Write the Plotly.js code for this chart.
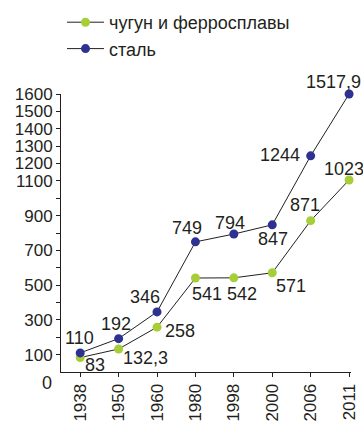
<!DOCTYPE html>
<html><head><meta charset="utf-8">
<script src="https://cdn.plot.ly/plotly-3.0.1.min.js"></script>
<style>html,body{margin:0;padding:0;background:#fff}#chart{width:363px;height:422px}</style>
</head><body><div id="chart"></div>
<script>
const years = ['1938','1950','1960','1980','1998','2000','2006','2011'];
const pigIron = [83, 132.3, 258, 541, 542, 571, 871, 1105];
const pigIronLabels = ['83','132,3','258','541','542','571','871','1023'];
const steel = [110, 192, 346, 749, 794, 847, 1244, 1600];
const steelLabels = ['110','192','346','749','794','847','1244','1517,9'];
const yTickVals = [100,200,300,400,500,600,700,800,900,1000,1100,1200,1300,1400,1500,1600];
const yTickText = ['100','','300','','500','','700','','900','','1100','1200','1300','1400','1500','1600'];
const seriesNames = ['чугун и ферросплавы','сталь'];

const FONT = 'Liberation Sans, Arial, sans-serif';
const TXT = '#231f20';
const GREEN = '#a6ce39', BLUE = '#2e3192';

// label offsets (px) relative to each point
const steelOff = [[-1,15],[-3,15],[-12,15],[-8,14],[-4,11],[1,-14],[-31,1],[-16,12]];
const pigOff = [[15,-7],[27,-9],[23,-4],[12,-16],[8,-16],[19,-13],[-6,16],[-5,11]];

const ann = [];
years.forEach((y,i)=>{
  ann.push({x:i,y:steel[i],xref:'x',yref:'y',text:steelLabels[i],showarrow:false,
    xshift:steelOff[i][0],yshift:steelOff[i][1],font:{family:FONT,size:18,color:TXT}});
  ann.push({x:i,y:pigIron[i],xref:'x',yref:'y',text:pigIronLabels[i],showarrow:false,
    xshift:pigOff[i][0],yshift:pigOff[i][1],font:{family:FONT,size:18,color:TXT}});
});
ann.push({x:0,xref:'paper',xanchor:'right',xshift:-7,y:0,yref:'y',yshift:-11,text:'0',showarrow:false,
  font:{family:FONT,size:18,color:TXT}});

const xi = years.map((_,i)=>i);
const traces = [
  {x:xi,y:pigIron,name:seriesNames[0],mode:'lines+markers',cliponaxis:false,
   line:{color:'#231f20',width:1},marker:{color:GREEN,size:9}},
  {x:xi,y:steel,name:seriesNames[1],mode:'lines+markers',cliponaxis:false,
   line:{color:'#231f20',width:1},marker:{color:BLUE,size:9}}
];
const layout = {
  width:363,height:422,
  margin:{l:61,r:12,t:94.3,b:50,autoexpand:false},
  paper_bgcolor:'#fff',plot_bgcolor:'#fff',
  font:{family:FONT,color:TXT,size:18},
  showlegend:true,
  legend:{xref:'container',yref:'container',x:62/363,y:1-4/422,xanchor:'left',yanchor:'top',
    itemwidth:37,
    font:{family:FONT,size:18,color:TXT},bgcolor:'rgba(0,0,0,0)',tracegroupgap:0},
  xaxis:{range:[-0.5,7.05],tickmode:'array',tickvals:xi,ticktext:years,tickangle:-90,automargin:false,
    showgrid:false,zeroline:false,showline:true,linecolor:'#231f20',linewidth:1,
    ticks:'outside',ticklen:4,tickcolor:'#231f20',tickfont:{family:FONT,size:17,color:TXT}},
  yaxis:{range:[0,1600],tickmode:'array',tickvals:yTickVals,ticktext:yTickText,automargin:false,
    showgrid:false,zeroline:false,showline:true,linecolor:'#231f20',linewidth:1,
    ticks:'outside',ticklen:4,tickcolor:'#231f20',tickfont:{family:FONT,size:17,color:TXT}},
  annotations:ann
};
Plotly.newPlot('chart',traces,layout,{displayModeBar:false,staticPlot:true});
</script></body></html>
